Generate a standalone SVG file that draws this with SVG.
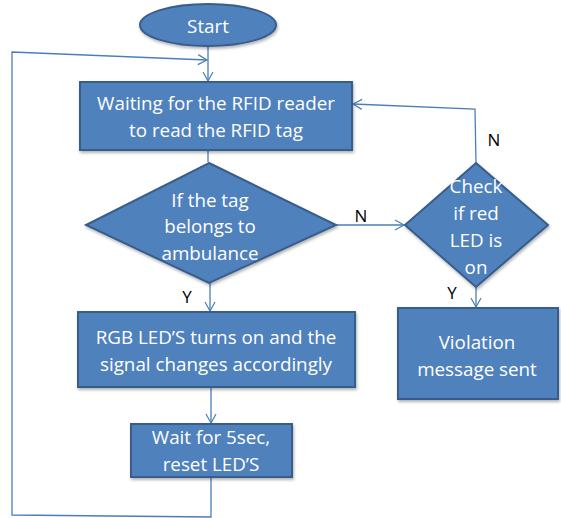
<svg xmlns="http://www.w3.org/2000/svg" width="561" height="518" viewBox="0 0 561 518">
<defs>
<marker id="arr" markerWidth="12" markerHeight="12" refX="10" refY="6" orient="auto" markerUnits="userSpaceOnUse">
<path d="M1,1 L10,6 L1,11" fill="none" stroke="#4A7EBB" stroke-width="1.2"/>
</marker>
<filter id="sh" x="-10%" y="-10%" width="120%" height="130%">
<feDropShadow dx="1" dy="2" stdDeviation="1.5" flood-color="#000" flood-opacity="0.3"/>
</filter>
</defs>
<style>
.n{fill:#4F81BD;stroke:#385D8A;stroke-width:2;filter:url(#sh)}
.t{fill:#fff;font-family:"Open Sans","Liberation Sans",sans-serif;font-size:18.8px;text-anchor:middle;dominant-baseline:central}
.c{fill:none;stroke:#4A7EBB;stroke-width:1.3}
.l{fill:#000;font-family:"Open Sans","Liberation Sans",sans-serif;font-size:17px;text-anchor:middle;dominant-baseline:central}
</style>
<rect width="561" height="518" fill="#fff"/>
<g id="connectors">
<line class="c" x1="208" y1="45" x2="208" y2="81" marker-end="url(#arr)"/>
<polyline class="c" points="211,477 211,517 12,515 12,52 207,60" marker-end="url(#arr)"/>
<line class="c" x1="208" y1="150" x2="208" y2="162"/>
<line class="c" x1="210" y1="282" x2="210" y2="311" marker-end="url(#arr)"/>
<line class="c" x1="211" y1="387" x2="211" y2="423" marker-end="url(#arr)"/>
<line class="c" x1="336" y1="225" x2="404" y2="225" marker-end="url(#arr)"/>
<polyline class="c" points="476,163 475,109 353,104" marker-end="url(#arr)"/>
<line class="c" x1="476" y1="287" x2="476" y2="307" marker-end="url(#arr)"/>
<text class="l" x="361" y="215">N</text>
<text class="l" x="494" y="139">N</text>
<text class="l" x="187" y="296">Y</text>
<text class="l" x="452" y="292">Y</text>
</g>
<g id="start">
<ellipse class="n" cx="208" cy="25" rx="68" ry="21"/>
<text class="t" x="208" y="26">Start</text>
</g>
<g id="waiting">
<rect class="n" x="80" y="82" width="272" height="68"/>
<text class="t" x="216" y="103">Waiting for the RFID reader</text>
<text class="t" x="216" y="130">to read the RFID tag</text>
</g>
<g id="ambulance">
<polygon class="n" points="209,163 336,225 209,283 86,225"/>
<text class="t" x="210" y="200">If the tag</text>
<text class="t" x="210" y="226">belongs to</text>
<text class="t" x="210" y="253">ambulance</text>
</g>
<g id="checkred">
<polygon class="n" points="476,163 548,225 476,287 405,225"/>
<text class="t" x="476" y="186">Check</text>
<text class="t" x="476" y="213">if red</text>
<text class="t" x="476" y="240">LED is</text>
<text class="t" x="476" y="267">on</text>
</g>
<g id="rgb">
<rect class="n" x="78" y="312" width="277" height="75"/>
<text class="t" x="216" y="337">RGB LED’S turns on and the</text>
<text class="t" x="216" y="364">signal changes accordingly</text>
</g>
<g id="wait">
<rect class="n" x="131" y="424" width="161" height="53"/>
<text class="t" x="211" y="437">Wait for 5sec,</text>
<text class="t" x="211" y="464">reset LED’S</text>
</g>
<g id="violation">
<rect class="n" x="398" y="308" width="160" height="91"/>
<text class="t" x="477" y="342">Violation</text>
<text class="t" x="477" y="369">message sent</text>
</g>
</svg>
